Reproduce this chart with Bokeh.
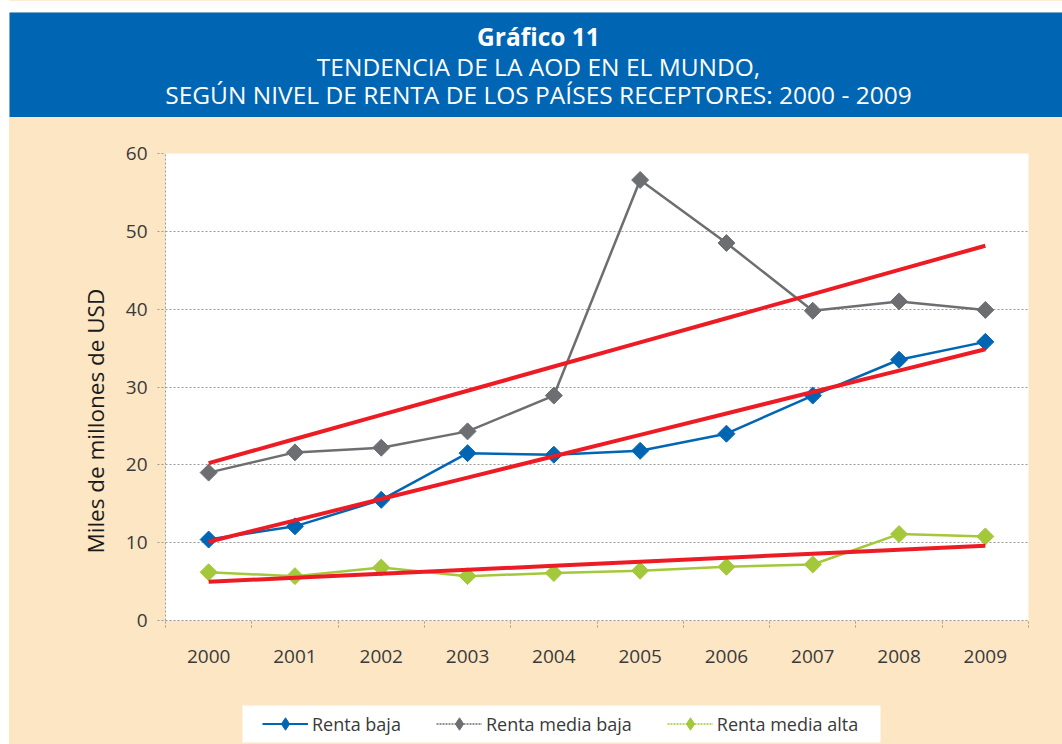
import numpy as np
from bokeh.plotting import figure
from bokeh.models import Range1d, FixedTicker, Legend, LegendItem, Label
from bokeh.layouts import column
from bokeh.embed import file_html
from bokeh.resources import INLINE

# ---------------- data ----------------
years = ["2000", "2001", "2002", "2003", "2004", "2005", "2006", "2007", "2008", "2009"]
renta_baja = [10.4, 12.1, 15.5, 21.5, 21.3, 21.8, 24.0, 28.9, 33.5, 35.8]
renta_media_baja = [19.0, 21.6, 22.2, 24.3, 28.9, 56.6, 48.5, 39.8, 41.0, 39.9]
renta_media_alta = [6.2, 5.7, 6.8, 5.7, 6.1, 6.4, 6.9, 7.2, 11.1, 10.8]
series_names = ["Renta baja", "Renta media baja", "Renta media alta"]
y_ticks = [0, 10, 20, 30, 40, 50, 60]
title_lines = ["Gráfico 11",
               "TENDENCIA DE LA AOD EN EL MUNDO,",
               "SEGÚN NIVEL DE RENTA DE LOS PAÍSES RECEPTORES: 2000 - 2009"]
y_label = "Miles de millones de USD"

# ---------------- style ----------------
HEADER_BLUE = "#0065B2"
BEIGE = "#FDE6C4"
BLUE = "#0066B3"
GRAY = "#6D6E71"
GREEN = "#A3C83A"
RED = "#ED1C24"
GRID = "#9A9A9A"
FONT = "Open Sans"
TXT = "#3A3A3A"

# ---------------- header ----------------
hdr = figure(width=1062, height=117, x_range=Range1d(0, 1053), y_range=Range1d(0, 105),
             toolbar_location=None, output_backend="svg",
             x_axis_location=None, y_axis_location=None,
             min_border_left=9, min_border_top=12, min_border_right=0, min_border_bottom=0,
             background_fill_color=HEADER_BLUE, border_fill_color="white",
             outline_line_color=None, frame_align=False)
hdr.grid.visible = False
for txt, yy, style in zip(title_lines, [81, 51, 23], ["bold", "normal", "normal"]):
    hdr.add_layout(Label(x=529, y=yy, text=txt, text_align="center", text_baseline="middle",
                         text_color="white", text_font=FONT, text_font_size="24.5px",
                         text_font_style=style))

# ---------------- main chart ----------------
x = np.arange(len(years))
p = figure(width=1053, height=573, x_range=Range1d(-0.5, len(years) - 0.5), y_range=Range1d(0, 60),
           toolbar_location=None, output_backend="svg",
           title=y_label, title_location="left",
           min_border_left=156, min_border_right=34, min_border_top=36, min_border_bottom=70,
           background_fill_color="white", border_fill_color=BEIGE, outline_line_color=None,
           frame_align=False, margin=(0, 0, 0, 9))

# y-axis title (plot's left title, so it can sit slightly below centre as in the original)
p.title.align = "left"
p.title.offset = 67
p.title.standoff = 23
p.title.text_font = FONT
p.title.text_font_size = "22.5px"
p.title.text_font_style = "normal"
p.title.text_color = "#1A1A1A"

# x axis
p.xaxis.ticker = FixedTicker(ticks=list(x), minor_ticks=list(np.arange(len(years) + 1) - 0.5))
p.xaxis.major_label_overrides = {int(i): years[i] for i in x}
p.xaxis.major_tick_out = 0
p.xaxis.major_tick_in = 0
p.xaxis.minor_tick_out = 7
p.xaxis.minor_tick_in = 0
p.xaxis.minor_tick_line_color = GRID
p.xaxis.minor_tick_line_dash = "2 2"
p.xaxis.major_label_standoff = 22

# y axis
p.yaxis.ticker = FixedTicker(ticks=y_ticks, minor_ticks=[])
p.yaxis.major_tick_out = 8
p.yaxis.major_tick_in = 0
p.yaxis.major_tick_line_color = GRID
p.yaxis.major_tick_line_dash = "2 2"
p.yaxis.minor_tick_out = 0
p.yaxis.minor_tick_in = 0
p.yaxis.major_label_standoff = 10

for ax in (p.xaxis, p.yaxis):
    ax.axis_line_color = GRID
    ax.axis_line_dash = "2 2"
    ax.major_label_text_font = FONT
    ax.major_label_text_font_size = "19px"
    ax.major_label_text_color = TXT

p.xgrid.visible = False
p.ygrid.ticker = FixedTicker(ticks=y_ticks)
p.ygrid.grid_line_color = GRID
p.ygrid.grid_line_dash = "2 2"

series = [renta_baja, renta_media_baja, renta_media_alta]
colors = [BLUE, GRAY, GREEN]
legend_dash = ["solid", "2 1", "2 1"]

for s, c in zip(series, colors):
    p.line(x, s, line_color=c, line_width=2.5)
    p.scatter(x, s, marker="square", angle=np.pi / 4, size=12, fill_color=c, line_color=c)

# linear trend lines (least-squares fit of each series)
for s in series:
    coef = np.polyfit(x, s, 1)
    p.line(x, np.polyval(coef, x), line_color=RED, line_width=4)

# ---------------- legend strip ----------------
lg = figure(width=1053, height=54, x_range=Range1d(0, 1), y_range=Range1d(0, 1),
            toolbar_location=None, output_backend="svg",
            x_axis_location=None, y_axis_location=None,
            min_border_left=233, min_border_right=182, min_border_top=15, min_border_bottom=2,
            background_fill_color="white", border_fill_color=BEIGE, outline_line_color=None,
            frame_align=False, margin=(0, 0, 0, 9))
lg.grid.visible = False

items = []
for name, s, c, d in zip(series_names, series, colors, legend_dash):
    lr = lg.line(x, s, line_color=c, line_width=2 if d == "solid" else 1.5, line_dash=d, visible=False)
    sr = lg.scatter(x, s, marker="diamond", size=12, fill_color=c, line_color=c, visible=False)
    items.append(LegendItem(label=name, renderers=[lr, sr]))

legend = Legend(items=items, orientation="horizontal", location=(20, 3),
                background_fill_alpha=0.0, border_line_color=None,
                label_text_font=FONT, label_text_font_size="18px",
                label_text_color=TXT, glyph_width=46, glyph_height=31, label_standoff=4,
                spacing=35, padding=0, margin=0, label_height=20, click_policy="none")
lg.add_layout(legend, "center")

layout = column(hdr, p, lg, spacing=0,
                styles={"background": "linear-gradient(to right, #FFFFFF 9px, %s 9px)" % BEIGE})
open("out.html", "w").write(file_html(layout, INLINE))
